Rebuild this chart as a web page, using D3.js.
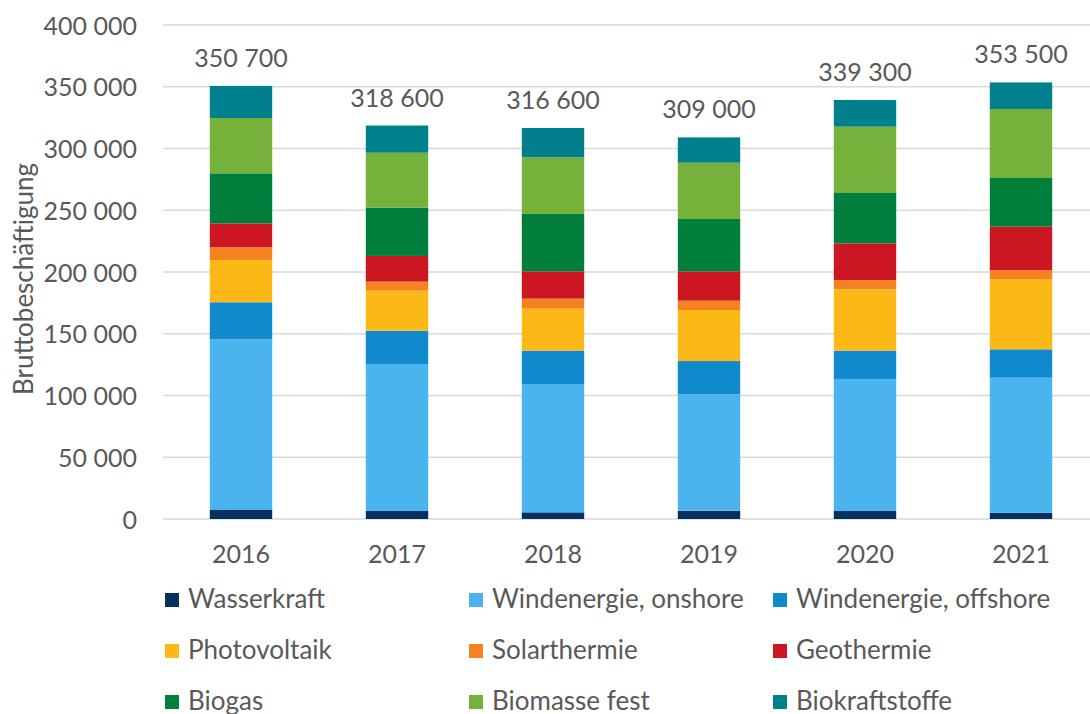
<!DOCTYPE html>
<html lang="de">
<head>
<meta charset="UTF-8">
<title>Bruttobeschäftigung erneuerbare Energien</title>
<style>
  body { margin: 0; background: #fff; }
  text { font-family: Lato, "Open Sans", sans-serif; fill: #595959; }
</style>
</head>
<body>
<script src="https://d3js.org/d3.v7.min.js"></script>
<script>
// values (persons)
const years = ["2016", "2017", "2018", "2019", "2020", "2021"]
const sources = ["Wasserkraft", "Windenergie, onshore", "Windenergie, offshore",
  "Photovoltaik", "Solarthermie", "Geothermie", "Biogas", "Biomasse fest", "Biokraftstoffe"]
const colors = ["#06315f", "#4bb3ee", "#1189cd", "#fbb817", "#f58220", "#cc1722", "#007e3b", "#76b13b", "#00808c"]

const wasserkraft    = [7300, 6500, 5400, 6700, 6500, 5100]
const windOnshore    = [138200, 119000, 103900, 94300, 106900, 109300]
const windOffshore   = [30000, 27000, 27000, 26900, 22900, 23000]
const photovoltaik   = [34200, 32400, 34000, 41300, 49700, 56900]
const solarthermie   = [10300, 7300, 8100, 7600, 7300, 7100]
const geothermie     = [19400, 20800, 22100, 23700, 29900, 35300]
const biogas         = [40500, 39100, 46500, 42400, 41300, 39400]
const biomasseFest   = [44800, 44500, 45900, 45600, 53200, 55900]
const biokraftstoffe = [26000, 22000, 23700, 20500, 21600, 21500]
const totals = [350700, 318600, 316600, 309000, 339300, 353500]
const yTicks = [0, 50000, 100000, 150000, 200000, 250000, 300000, 350000, 400000]

const series = [wasserkraft, windOnshore, windOffshore, photovoltaik, solarthermie,
  geothermie, biogas, biomasseFest, biokraftstoffe]

// table for d3.stack
const table = years.map((yr, i) => {
  const row = { year: yr }
  sources.forEach((s, k) => { row[s] = series[k][i] })
  return row
})

const width = 1090
const height = 714
const plotLeft = 163, plotRight = 1099, plotTop = 25, plotBottom = 519

const de = d3.formatLocale({ decimal: ",", thousands: " ", grouping: [3], currency: ["", " €"] })
const fmt = de.format(",")

const svg = d3.select('body')
  .append('svg')
  .attr('width', width)
  .attr('height', height)

const x = d3.scaleBand()
  .domain(years)
  .range([plotLeft, plotRight])
  .paddingInner(0.6)
  .paddingOuter(0.3)

const y = d3.scaleLinear()
  .domain([0, 400000])
  .range([plotBottom, plotTop])

// gridlines
svg.append('g')
  .selectAll('line')
  .data(yTicks)
  .join('line')
  .attr('x1', plotLeft)
  .attr('x2', plotRight)
  .attr('y1', d => y(d))
  .attr('y2', d => y(d))
  .attr('stroke', '#d9d9d9')
  .attr('stroke-width', 1.5)

// y axis labels
const yAxis = svg.append('g')
  .attr('transform', `translate(${plotLeft - 26},0)`)
  .call(d3.axisLeft(y).tickValues(yTicks).tickFormat(fmt).tickSize(0).tickPadding(0))
yAxis.select('.domain').remove()
yAxis.selectAll('text')
  .attr('font-size', 25)
  .attr('font-family', 'Lato, sans-serif')
  .attr('fill', '#595959')
  .attr('dy', '0.36em')

svg.append('text')
  .attr('transform', 'translate(33,279) rotate(-90)')
  .attr('text-anchor', 'middle')
  .attr('font-size', 26)
  .text('Bruttobeschäftigung')

// stacked bars
const stacked = d3.stack().keys(sources)(table)

svg.append('g')
  .selectAll('g')
  .data(stacked)
  .join('g')
  .attr('fill', (d, i) => colors[i])
  .selectAll('rect')
  .data(d => d)
  .join('rect')
  .attr('x', d => x(d.data.year))
  .attr('width', x.bandwidth())
  .attr('y', d => y(d[1]))
  .attr('height', d => y(d[0]) - y(d[1]))

// total labels
svg.append('g')
  .selectAll('text')
  .data(years)
  .join('text')
  .attr('x', d => x(d) + x.bandwidth() / 2)
  .attr('y', (d, i) => y(totals[i]) - 19)
  .attr('text-anchor', 'middle')
  .attr('font-size', 25)
  .text((d, i) => fmt(totals[i]))

// x axis labels
const xAxis = svg.append('g')
  .attr('transform', `translate(0,${plotBottom})`)
  .call(d3.axisBottom(x).tickSize(0).tickPadding(0))
xAxis.select('.domain').remove()
xAxis.selectAll('text')
  .attr('font-size', 25)
  .attr('font-family', 'Lato, sans-serif')
  .attr('fill', '#595959')
  .attr('dy', null)
  .attr('y', 44)

// legend, 3 columns
const legend = svg.append('g')
  .selectAll('g')
  .data(sources)
  .join('g')
  .attr('transform', (d, i) => `translate(${165 + (i % 3) * 304},${608 + Math.floor(i / 3) * 51})`)

legend.append('rect')
  .attr('x', 0)
  .attr('y', -15)
  .attr('width', 14)
  .attr('height', 14)
  .attr('fill', (d, i) => colors[i])

legend.append('text')
  .attr('x', 23)
  .attr('y', 0)
  .attr('font-size', 26)
  .text(d => d)
</script>
</body>
</html>
